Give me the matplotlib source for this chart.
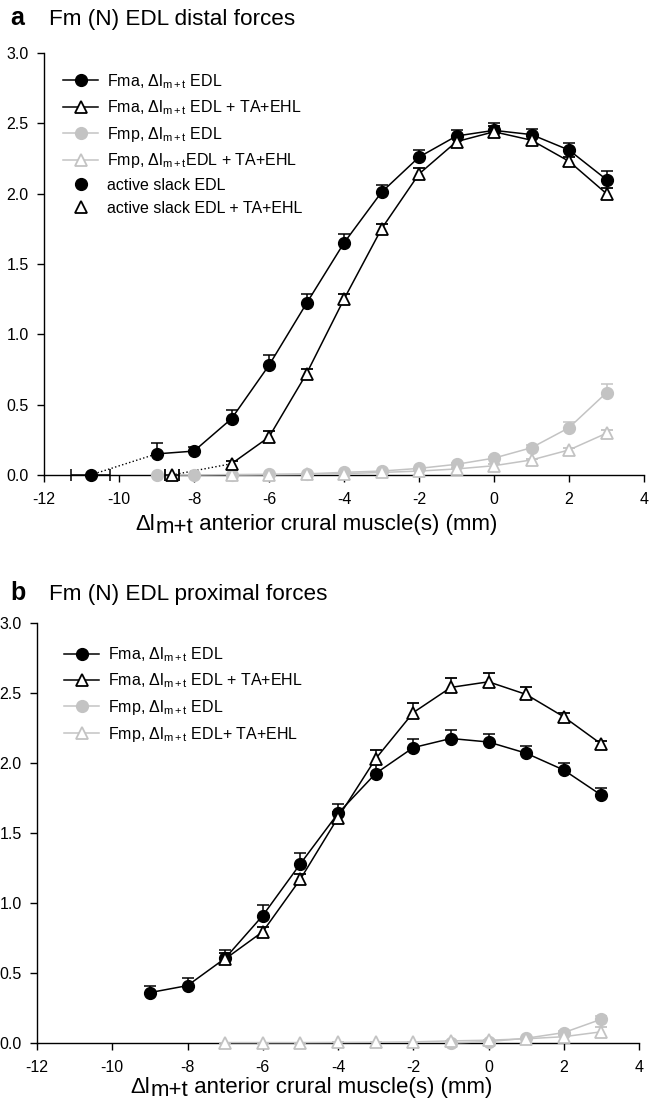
import matplotlib
matplotlib.use("Agg")
import matplotlib.pyplot as plt
from matplotlib.lines import Line2D
import numpy as np

plt.rcParams['font.family'] = ['Liberation Sans', 'DejaVu Sans']
plt.rcParams['mathtext.fontset'] = 'custom'
plt.rcParams['mathtext.rm'] = 'Liberation Sans'
plt.rcParams['mathtext.it'] = 'Liberation Sans:italic'
plt.rcParams['mathtext.default'] = 'regular'

# ---------------- data: panel a (distal) ----------------
x_a_edl = [-9, -8, -7, -6, -5, -4, -3, -2, -1, 0, 1, 2, 3]
fma_edl_a = [0.15, 0.17, 0.40, 0.78, 1.22, 1.65, 2.01, 2.26, 2.41, 2.45, 2.42, 2.31, 2.10]
fma_edl_a_err = [0.08, 0.03, 0.06, 0.07, 0.07, 0.065, 0.05, 0.05, 0.04, 0.05, 0.04, 0.05, 0.06]
x_a_ta = [-7, -6, -5, -4, -3, -2, -1, 0, 1, 2, 3]
fma_ta_a = [0.08, 0.27, 0.72, 1.25, 1.75, 2.14, 2.37, 2.44, 2.38, 2.23, 2.00]
fma_ta_a_err = [0.02, 0.04, 0.035, 0.035, 0.035, 0.04, 0.03, 0.04, 0.03, 0.03, 0.04]
fmp_edl_a = [0.0, 0.0, 0.003, 0.005, 0.008, 0.019, 0.028, 0.047, 0.076, 0.12, 0.194, 0.336, 0.585]
fmp_edl_a_err = [0, 0, 0, 0, 0, 0, 0, 0.005, 0.01, 0.01, 0.02, 0.04, 0.065]
fmp_ta_a = [0.0, 0.002, 0.004, 0.01, 0.018, 0.028, 0.043, 0.066, 0.107, 0.178, 0.297]
fmp_ta_a_err = [0, 0, 0, 0, 0, 0, 0.005, 0.01, 0.01, 0.015, 0.02]
slack_edl_x = [-10.76]
slack_edl_xerr = [0.52]
slack_ta_x = [-8.59]
slack_ta_xerr = [0.18]
slack_y = [0.0]

# ---------------- data: panel b (proximal) ----------------
x_b_edl = [-9, -8, -7, -6, -5, -4, -3, -2, -1, 0, 1, 2, 3]
fma_edl_b = [0.36, 0.41, 0.605, 0.91, 1.28, 1.64, 1.925, 2.11, 2.175, 2.15, 2.07, 1.95, 1.77]
fma_edl_b_err = [0.05, 0.055, 0.06, 0.075, 0.075, 0.07, 0.07, 0.06, 0.06, 0.06, 0.05, 0.05, 0.05]
x_b_ta = [-7, -6, -5, -4, -3, -2, -1, 0, 1, 2, 3]
fma_ta_b = [0.60, 0.795, 1.17, 1.61, 2.03, 2.36, 2.54, 2.58, 2.49, 2.33, 2.135]
fma_ta_b_err = [0.04, 0.035, 0.04, 0.04, 0.06, 0.07, 0.07, 0.065, 0.055, 0.03, 0.025]
x_b_fmp_edl = [-1, 0, 1, 2, 3]
fmp_edl_b = [0.0, 0.01, 0.034, 0.074, 0.17]
fmp_edl_b_err = [0, 0, 0.005, 0.01, 0.02]
fmp_ta_b = [0.003, 0.003, 0.003, 0.004, 0.005, 0.008, 0.015, 0.02, 0.03, 0.045, 0.08]
fmp_ta_b_err = [0, 0, 0, 0, 0, 0, 0, 0, 0.005, 0.01, 0.036]

yticks = [0.0, 0.5, 1.0, 1.5, 2.0, 2.5, 3.0]
xticks = [-12, -10, -8, -6, -4, -2, 0, 2, 4]

BLACK = 'black'
GRAY = '#c3c3c3'
MS = 8.5
LW = 1.1

styles = {
    'fma_edl': dict(color=BLACK, marker='o', mfc=BLACK, mec=BLACK, ms=MS, lw=LW),
    'fma_ta': dict(color=BLACK, marker='^', mfc='white', mec=BLACK, ms=MS, lw=LW, mew=1.3),
    'fmp_edl': dict(color=GRAY, marker='o', mfc=GRAY, mec=GRAY, ms=MS, lw=LW),
    'fmp_ta': dict(color=GRAY, marker='^', mfc='white', mec=GRAY, ms=MS, lw=LW, mew=1.3),
}


def series(ax, x, y, err, st, z=3):
    x = np.asarray(x, float)
    y = np.asarray(y, float)
    err = np.asarray(err, float)
    cont = ax.errorbar(x, y, yerr=[np.zeros_like(err), err], capsize=4.3,
                       elinewidth=1.1, capthick=1.1, ecolor=st['color'],
                       zorder=z, **st)
    line, caps, bars = cont
    if len(caps) == 2:
        caps[0].set_visible(False)
    for art in [line, *caps, *bars]:
        art.set_clip_on(False)


def style_axes(ax):
    ax.set_xlim(-12, 4)
    ax.set_ylim(0, 3)
    ax.set_xticks(xticks)
    ax.set_xticklabels([str(t) for t in xticks])
    ax.set_yticks(yticks)
    ax.set_yticklabels([f"{t:.1f}" for t in yticks])
    for s in ['top', 'right']:
        ax.spines[s].set_visible(False)
    for s in ['left', 'bottom']:
        ax.spines[s].set_linewidth(1.0)
    ax.tick_params(axis='both', direction='out', length=5, width=1.0, labelsize=11.5)
    ax.tick_params(axis='x', pad=7)
    ax.tick_params(axis='y', pad=6)


def xlabel(ax, xfrac, yfrac):
    fs = 16
    t1 = ax.text(xfrac, yfrac, "\u0394l", transform=ax.transAxes, fontsize=fs,
                 ha='left', va='baseline')
    t2 = ax.annotate("m+t", xy=(1, 0), xycoords=t1, xytext=(0.3, -2.2),
                     textcoords='offset points', fontsize=fs, ha='left', va='bottom')
    ax.annotate(" anterior crural muscle(s) (mm)", xy=(1, 0), xycoords=t2,
                xytext=(0, 2.2), textcoords='offset points', fontsize=fs,
                ha='left', va='bottom')


fig = plt.figure(figsize=(6.5, 11.07), dpi=100)
W, H = 650.0, 1107.0
axA = fig.add_axes([44 / W, 1 - 475 / H, 600 / W, 422 / H])
axB = fig.add_axes([37 / W, 1 - 1043 / H, 602 / W, 420 / H])

# ---- panel a ----
axA.plot([slack_edl_x[0], x_a_edl[0]], [slack_y[0], fma_edl_a[0]], ls=':', color=BLACK,
         lw=1.0, zorder=2.8, clip_on=False)
axA.plot([slack_ta_x[0], x_a_ta[0]], [slack_y[0], fma_ta_a[0]], ls=':', color=BLACK,
         lw=1.0, zorder=2.8, clip_on=False)
series(axA, x_a_edl, fmp_edl_a, fmp_edl_a_err, styles['fmp_edl'])
series(axA, x_a_ta, fmp_ta_a, fmp_ta_a_err, styles['fmp_ta'])
series(axA, x_a_edl, fma_edl_a, fma_edl_a_err, styles['fma_edl'], z=4)
series(axA, x_a_ta, fma_ta_a, fma_ta_a_err, styles['fma_ta'], z=4)
for sx, sxe, st in [(slack_edl_x, slack_edl_xerr, dict(marker='o', mfc=BLACK, mec=BLACK)),
                    (slack_ta_x, slack_ta_xerr, dict(marker='^', mfc='white', mec=BLACK, mew=1.3))]:
    c = axA.errorbar(sx, slack_y, xerr=sxe, ls='none', ms=MS, ecolor=BLACK, capsize=4.5,
                     elinewidth=1.1, capthick=1.1, zorder=5, **st)
    for art in [c[0], *c[1], *c[2]]:
        art.set_clip_on(False)
style_axes(axA)

hA = [Line2D([], [], **styles['fma_edl']),
      Line2D([], [], **styles['fma_ta']),
      Line2D([], [], **styles['fmp_edl']),
      Line2D([], [], **styles['fmp_ta']),
      Line2D([], [], ls='none', marker='o', mfc=BLACK, mec=BLACK, ms=MS),
      Line2D([], [], ls='none', marker='^', mfc='white', mec=BLACK, ms=MS, mew=1.3)]
lA = [r"Fma, $\Delta$l$_{m+t}$ EDL",
      r"Fma, $\Delta$l$_{m+t}$ EDL + TA+EHL",
      r"Fmp, $\Delta$l$_{m+t}$ EDL",
      r"Fmp, $\Delta$l$_{m+t}$EDL + TA+EHL",
      "active slack EDL",
      "active slack EDL + TA+EHL"]
axA.legend(hA, lA, loc='upper left', bbox_to_anchor=(0.032, 0.955), frameon=False,
           fontsize=11.5, handlelength=2.2, handletextpad=0.55, labelspacing=0.48,
           borderpad=0, borderaxespad=0)
xlabel(axA, (135 - 44) / 600, (475 - 530) / 422)

# ---- panel b ----
series(axB, x_b_fmp_edl, fmp_edl_b, fmp_edl_b_err, styles['fmp_edl'])
series(axB, x_b_ta, fmp_ta_b, fmp_ta_b_err, styles['fmp_ta'])
series(axB, x_b_edl, fma_edl_b, fma_edl_b_err, styles['fma_edl'], z=4)
series(axB, x_b_ta, fma_ta_b, fma_ta_b_err, styles['fma_ta'], z=4)
style_axes(axB)
hB = hA[:4]
lB = [r"Fma, $\Delta$l$_{m+t}$ EDL",
      r"Fma, $\Delta$l$_{m+t}$ EDL + TA+EHL",
      r"Fmp, $\Delta$l$_{m+t}$ EDL",
      r"Fmp, $\Delta$l$_{m+t}$ EDL+ TA+EHL"]
axB.legend(hB, lB, loc='upper left', bbox_to_anchor=(0.045, 0.947), frameon=False,
           fontsize=11.5, handlelength=2.2, handletextpad=0.55, labelspacing=0.48,
           borderpad=0, borderaxespad=0)
xlabel(axB, (130 - 37) / 602, (1043 - 1093) / 420)

# ---- panel titles ----
fig.text(10 / W, 1 - 25 / H, "a", fontsize=18, fontweight='bold', va='baseline')
fig.text(49 / W, 1 - 25 / H, "Fm (N) EDL distal forces", fontsize=16.2, va='baseline')
fig.text(10 / W, 1 - 600 / H, "b", fontsize=18, fontweight='bold', va='baseline')
fig.text(49 / W, 1 - 600 / H, "Fm (N) EDL proximal forces", fontsize=16.2, va='baseline')

fig.savefig("out.png", dpi=100)
